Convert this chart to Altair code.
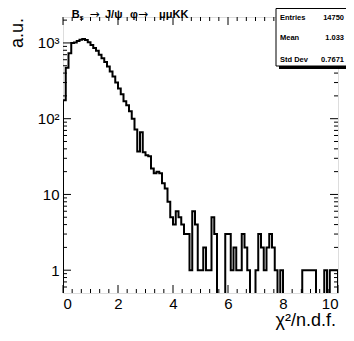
import altair as alt
import pandas as pd

# ---- data: 100 bins of width 0.1 on [0, 10] ----
counts = [175, 470, 730, 1000, 1010, 1060, 1100, 1130, 1090, 1020,
          940, 860, 790, 700, 630, 560, 490, 420, 360, 300,
          250, 210, 170, 150, 125, 100, 72, 37, 66, 36,
          33, 32, 22, 19, 20, 19, 14, 12, 8, 5,
          4, 6, 5, 4, 3, 3, 1, 6, 4, 1,
          1, 2, 1, 1, 5, 3, 0, 0, 0, 3,
          3, 1, 2, 1, 1, 3, 2, 1, 0, 0,
          1, 3, 2, 1, 2, 3, 2, 1, 0, 1,
          0, 0, 0, 0, 0, 0, 0, 1, 1, 1,
          1, 1, 0, 0, 0, 1, 0, 1, 1, 1]
bin_width = 0.1

x_major = [0, 2, 4, 6, 8, 10]
x_minor = [round(i / 3, 4) for i in range(31) if i % 6 != 0]
y_major = [1, 10, 100, 1000]
y_minor = [0.6, 0.7, 0.8, 0.9] + [m * 10 ** k for k in range(0, 3) for m in range(2, 10)] + [2000]

title_parts = ["B", "s", "→", "J/ψ", "φ", "→", "μμKK"]
stats_labels = ["Entries", "Mean", "Std Dev"]
stats_values = ["14750", "1.033", "0.7671"]

W, H = 275, 276
FLOOR = 0.05  # empty bins drawn below the axis floor and clipped

rows = [{"o": 0, "x": 0.0, "y": FLOOR}]
for i, c in enumerate(counts):
    rows.append({"o": i + 1, "x": round(i * bin_width, 2), "y": c if c > 0 else FLOOR})
rows.append({"o": len(counts) + 1, "x": 10.0, "y": counts[-1] if counts[-1] > 0 else FLOOR})
rows.append({"o": len(counts) + 2, "x": 10.0, "y": FLOOR})
hist_df = pd.DataFrame(rows)

FONT = "Liberation Sans"
xscale = alt.Scale(domain=[0, 10], nice=False, zero=False)
yscale = alt.Scale(type="log", domain=[0.5, 2200], nice=False)
xaxis = alt.Axis(values=x_major, ticks=False, domain=False, grid=False, title=None,
                 labelFont=FONT, labelFontSize=15, labelColor="black", labelPadding=3)
yaxis = alt.Axis(values=y_major, ticks=False, domain=False, grid=False, title=None,
                 labelFont=FONT, labelFontSize=15, labelColor="black", labelPadding=4,
                 labelExpr="datum.value == 1000 ? '10³' : datum.value == 100 ? '10²' : datum.label")

hist = alt.Chart(hist_df).mark_line(interpolate="step-after", color="black",
                                    strokeWidth=2, clip=True).encode(
    x=alt.X("x:Q", scale=xscale, axis=xaxis),
    y=alt.Y("y:Q", scale=yscale, axis=yaxis),
    order="o:Q",
)

def xticks(vals, length):
    df = pd.DataFrame({"x": vals})
    base = alt.Chart(df).mark_rule(color="black", strokeWidth=1)
    bot = base.encode(x=alt.X("x:Q", scale=xscale, axis=xaxis),
                      y=alt.value(H), y2=alt.value(H - length))
    top = base.encode(x=alt.X("x:Q", scale=xscale, axis=xaxis),
                      y=alt.value(0), y2=alt.value(length))
    return [bot, top]

def yticks(vals, length):
    df = pd.DataFrame({"y": vals})
    base = alt.Chart(df).mark_rule(color="black", strokeWidth=1)
    left = base.encode(y=alt.Y("y:Q", scale=yscale, axis=yaxis),
                       x=alt.value(0), x2=alt.value(length))
    right = base.encode(y=alt.Y("y:Q", scale=yscale, axis=yaxis),
                        x=alt.value(W), x2=alt.value(W - length))
    return [left, right]

ticks = xticks(x_major, 8) + xticks(x_minor, 4) + yticks(y_major, 8) + yticks(y_minor, 4)

one = pd.DataFrame({"a": [0]})

def text(t, x, y, size, weight="normal", align="left", angle=0, baseline="alphabetic", font=FONT):
    return alt.Chart(one).mark_text(text=t, font=font, fontSize=size, fontWeight=weight,
                                    align=align, baseline=baseline, angle=angle,
                                    color="black").encode(x=alt.value(x), y=alt.value(y))

title_x = [8.7, 16.5, 26.5, 42, 67, 75, 96]
title = []
for part, tx in zip(title_parts, title_x):
    if part == "s":
        title.append(text(part, tx, 3, 7.5, "bold"))
    elif part == "→":
        title.append(text(part, tx, 0.5, 12, "normal", font="DejaVu Sans"))
    else:
        title.append(text(part, tx, 0.5, 11, "bold"))

axis_titles = [
    text("a.u.", -45, 1, 18, align="right", angle=270, baseline="middle"),
    text("χ²/n.d.f.", 273, 309, 18, align="right"),
]

box = [
    alt.Chart(one).mark_rect(color="black").encode(
        x=alt.value(216), x2=alt.value(287), y=alt.value(-6.5), y2=alt.value(52)),
    alt.Chart(one).mark_rect(fill="white", stroke="black", strokeWidth=1).encode(
        x=alt.value(213), x2=alt.value(284), y=alt.value(-8.5), y2=alt.value(49)),
]
stats = []
for lab, val, yy in zip(stats_labels, stats_values, [2.5, 22.5, 44.5]):
    stats.append(text(lab, 217, yy, 7.5, "bold"))
    stats.append(text(val, 281, yy, 7.5, "bold", align="right"))

chart = alt.layer(hist, *ticks, *title, *axis_titles, *box, *stats).properties(
    width=W, height=H,
    autosize=alt.AutoSizeParams(type="none"),
    padding={"left": 55, "top": 9, "right": 8, "bottom": 40},
).configure_view(stroke="black", strokeWidth=1.5).configure(background="white")

chart.save("out.html", embed_options={"renderer": "svg", "actions": False})
